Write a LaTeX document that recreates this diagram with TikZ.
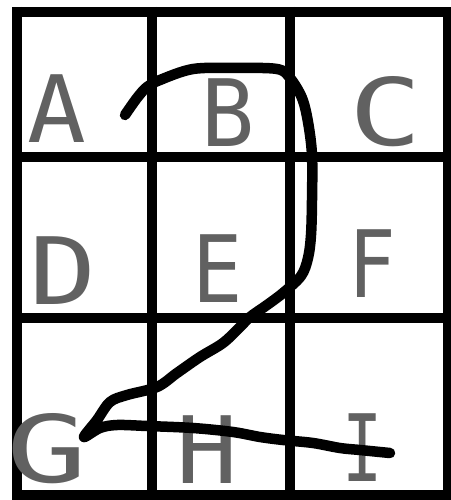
\documentclass[tikz,border=0pt]{standalone}
\usepackage{fontspec}
\newfontfamily\letterfont{DejaVu Sans Mono}
\begin{document}
\begin{tikzpicture}[x=1pt,y=-1pt,
  gridline/.style={line width=10.5pt,black},
  stroke/.style={line width=10.5pt,black,line cap=round,line join=round},
  letter/.style={anchor=base,inner sep=0pt,text=black!62,font=\letterfont\fontsize{93}{93}\selectfont}]
\useasboundingbox (0,0) rectangle (450,500);
% grid
\draw[gridline] (17,12) -- (450,12);
\draw[gridline] (17,157) -- (450,157);
\draw[gridline] (12,318) -- (450,318);
\draw[gridline] (17,495) -- (450,495);
\draw[gridline] (17,7) -- (17,500);
\draw[gridline] (152,7) -- (152,500);
\draw[gridline] (290,7) -- (290,500);
\draw[gridline] (448,7) -- (448,500);
% letters
\node[letter] (A) at (57,142) {\scalebox{1.05}[1]{A}};
\node[letter] (B) at (228,146) {\scalebox{0.95}[1]{B}};
\node[letter] (C) at (386,145) {\scalebox{1.3}[1]{C}};
\node[letter] (D) at (63,304) {\scalebox{1.2}[1]{D}};
\node[letter] (E) at (218,302) {\scalebox{0.9}[1]{E}};
\node[letter] (F) at (372,297) {\scalebox{0.85}[1]{F}};
\node[letter] (G) at (47,482) {\scalebox{1.45}[1]{G}};
\node[letter] (H) at (207,483) {\scalebox{1.1}[1]{H}};
\node[letter] (I) at (363,481) {\scalebox{0.72}[1]{I}};
% freehand stroke
\coordinate (s) at (125,115);
\coordinate (e) at (390,453);
\draw[stroke] plot[smooth,tension=0.55] coordinates {
 (s) (137,98) (147,87) (160,80) (193,69) (235,68) (277,69) (290,78) (302,98)
 (308,122) (312,155) (312,200) (311,235) (308,258) (301,276) (283,293)
 (267,305) (250,317) (240,327) (223,343) (200,357) (177,373) (157,387)
 (127,395) (110,402) (97,420) (84,437) (100,428) (117,425) (147,426)
 (193,428) (233,432) (260,437) (283,440) (313,443) (340,448) (360,450) (e)};
\end{tikzpicture}
\end{document}
